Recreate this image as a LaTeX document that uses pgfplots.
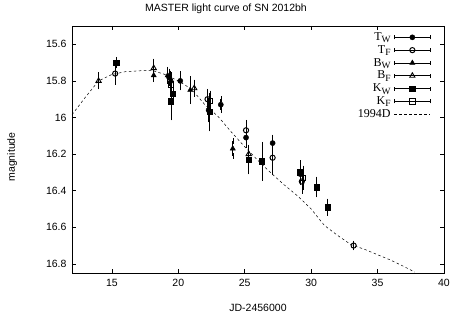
\documentclass[border=0pt]{standalone}
\usepackage{pgfplots}
\pgfplotsset{compat=1.18}
\usepackage{fontspec}
\setmainfont{Liberation Sans}
\newfontfamily\serif{Liberation Serif}
\newcommand{\sub}[1]{\raisebox{-2.5pt}{\fontsize{9.5}{9.5}\selectfont #1}}
\begin{document}
\begin{tikzpicture}
\useasboundingbox (-72pt,-45pt) rectangle (381pt,273pt);
\begin{axis}[
  scale only axis, width=372pt, height=247pt,
  xmin=12, xmax=40, ymin=15.5, ymax=16.85,
  y dir=reverse,
  xtick={15,20,25,30,35,40},
  ytick={15.6,15.8,16,16.2,16.4,16.6,16.8},
  tick align=inside, major tick length=4pt,
  axis line style={line width=0.8pt},
  tick style={line width=0.6pt, black},
  /pgf/number format/assume math mode=true,
  tick label style={font=\fontsize{10.5}{12}\selectfont},
  xticklabel style={yshift=-3pt},
  yticklabel style={xshift=-2pt},
  xlabel={JD-2456000}, ylabel={magnitude},
  label style={font=\fontsize{10.5}{12}\selectfont},
  xlabel style={at={(axis description cs:0.5,-0.142)}, anchor=center},
  ylabel style={at={(axis description cs:-0.161,0.47)}, anchor=center},
  legend plot pos=right,
  legend cell align=right,
  legend style={draw=none, fill=none, at={(0.964,0.98)}, anchor=north east,
    inner sep=0pt, outer sep=0pt,
    font=\serif\fontsize{12}{13}\selectfont, row sep=0pt, column sep=3pt,
    nodes={inner sep=0.5pt, text height=9pt, text depth=2.8pt}},
  legend image code/.code={
    \draw[solid, black, line width=0.5pt] (0pt,0pt) -- (36pt,0pt)
      (0pt,-2pt) -- (0pt,2pt) (36pt,-2pt) -- (36pt,2pt);
    \draw[#1] plot coordinates {(18pt,0pt)};
  },
  every axis plot/.append style={
    error bars/y dir=both, error bars/y explicit,
    error bars/error mark options={black, mark size=3pt, line width=0.5pt},
    error bars/error bar style={black, line width=0.6pt}},
]
% T_W filled circle
\addplot[only marks, mark=*, mark size=2.6pt, black] coordinates {
 (19.3,15.78) +- (0,0.03)
 (20.15,15.80) +- (0,0.035)
 (22.28,15.96) +- (0,0.05)
 (23.2,15.93) +- (0,0.03)
 (25.1,16.11) +- (0,0.04)
 (27.1,16.14) +- (0,0.03)
 (29.2,16.31) +- (0,0.04)
};
\addlegendentry{T\sub{W}}
% T_F open circle
\addplot[only marks, mark=o, mark size=2.6pt, black, mark options={line width=1pt, fill=white}] coordinates {
 (15.25,15.76) +- (0,0.045)
 (19.4,15.80) +- (0,0.04)
 (22.2,15.90) +- (0,0.04)
 (25.1,16.07) +- (0,0.04)
 (27.1,16.22) +- (0,0.08)
 (29.3,16.35) +- (0,0.05)
 (33.2,16.70) +- (0,0.01)
};
\addlegendentry{T\sub{F}}
% B_W filled triangle
\addplot[only marks, mark=triangle*, mark size=3pt, black] coordinates {
 (18.15,15.77) +- (0,0.02)
 (19.2,15.77) +- (0,0.03)
 (20.9,15.85) +- (0,0.06)
 (24.1,16.17) +- (0,0.04)
};
\addlegendentry{B\sub{W}}
% B_F open triangle
\addplot[only marks, mark=triangle, mark size=3pt, black, mark options={line width=0.9pt, fill=white}] coordinates {
 (14.0,15.80) +- (0,0.03)
 (18.15,15.73) +- (0,0.035)
 (21.2,15.84) +- (0,0.03)
 (25.3,16.20) +- (0,0.03)
};
\addlegendentry{B\sub{F}}
% K_W filled square
\addplot[only marks, mark=square*, mark size=2.7pt, black] coordinates {
 (15.33,15.70) +- (0,0.015)
 (19.6,15.87) +- (0,0.03)
 (19.45,15.91) +- (0,0.09)
 (22.35,15.97) +- (0,0.09)
 (25.3,16.23) +- (0,0.065)
 (26.3,16.24) +- (0,0.09)
 (29.15,16.30) +- (0,0.05)
 (30.4,16.38) +- (0,0.04)
 (31.25,16.49) +- (0,0.03)
};
\addlegendentry{K\sub{W}}
% K_F open square
\addplot[only marks, mark=square, mark size=2.7pt, black, mark options={line width=0.9pt, fill=white}] coordinates {
 (19.45,15.82) +- (0,0.05)
 (22.4,15.91) +- (0,0.04)
 (29.4,16.33) +- (0,0.05)
};
\addlegendentry{K\sub{F}}
% 1994D template
\addplot[black, line width=0.5pt, dash pattern=on 2.5pt off 2.5pt, no markers,
  error bars/y dir=none,
  legend image code/.code={\draw[black, line width=0.5pt, dash pattern=on 2.5pt off 2.5pt] (0pt,0pt) -- (36pt,0pt);}]
 coordinates {
 (12,15.985) (13,15.89) (14,15.80) (15,15.765) (16,15.75) (17,15.745)
 (18,15.742) (19,15.765) (20,15.80) (21,15.845) (22,15.93) (23,15.995)
 (24,16.08) (25,16.16) (26,16.235) (27,16.305) (28,16.37) (29,16.43)
 (30,16.50) (31,16.59) (32,16.645) (33,16.695) (34,16.72) (35,16.75)
 (36,16.78) (37,16.815) (37.8,16.845)
};
\addlegendentry{1994D}
\end{axis}
\node[font=\fontsize{10.5}{12}\selectfont, anchor=center] at (154pt,264pt) {MASTER light curve of SN 2012bh};
\end{tikzpicture}
\end{document}
